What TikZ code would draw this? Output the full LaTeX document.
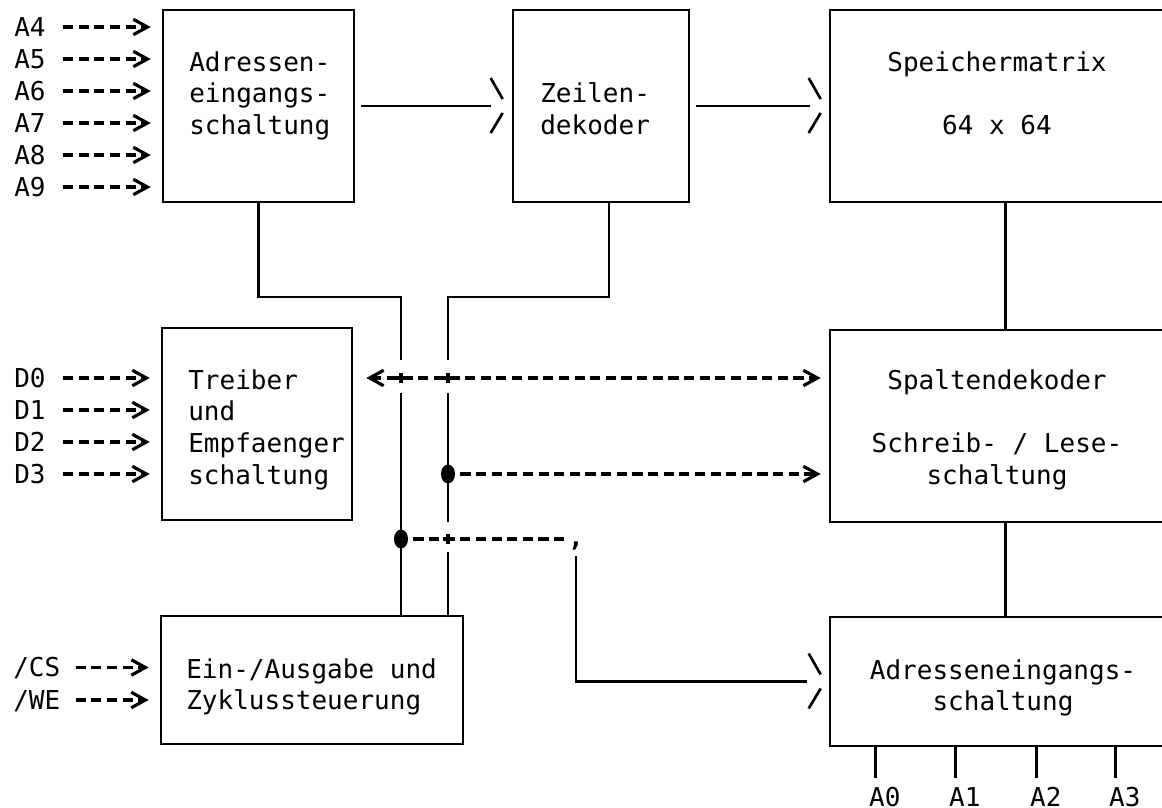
\documentclass[tikz,border=0pt]{standalone}
\usepackage{fontspec}
\newfontfamily\tw{DejaVu Sans Mono}
\usepackage{tikz}
\usetikzlibrary{arrows.meta,shapes.geometric}

\begin{document}
\begin{tikzpicture}[line width=0.75pt,>={Straight Barb[length=4pt,width=4.4pt]},
  blk/.style={draw,inner sep=0},
  txt/.style={inner sep=0,font=\tw\fontsize{7.4}{9.07}\selectfont},
  inp/.style={txt,text height=5.4pt,text depth=0pt,anchor=west},
  sig/.style={line width=0.9pt,dash pattern=on 2.9pt off 1.55pt,->},
  blob/.style={ellipse,fill,inner sep=0,minimum width=0.14cm,minimum height=0.19cm},
  chev/.pic={\draw (-0.12,0.28)--(0,0.07) (0,-0.07)--(-0.12,-0.27);}]
\useasboundingbox (0,0) rectangle (11.62,-8.08);
\clip (0,0) rectangle (11.62,-8.08);

\node[blk,minimum width=1.91cm,minimum height=1.92cm] (adr) at (2.585,-1.06) {};
\node[blk,minimum width=1.76cm,minimum height=1.92cm] (zeil) at (6.01,-1.06) {};
\node[blk,minimum width=3.45cm,minimum height=1.92cm] (spm) at (10.025,-1.06) {};
\node[blk,minimum width=1.90cm,minimum height=1.92cm] (treib) at (2.57,-4.24) {};
\node[blk,minimum width=3.45cm,minimum height=1.92cm] (spd) at (10.025,-4.26) {};
\node[blk,minimum width=3.02cm,minimum height=1.28cm] (steu) at (3.12,-6.80) {};
\node[blk,minimum width=3.45cm,minimum height=1.29cm] (adr2) at (10.025,-6.815) {};

\node[txt,anchor=north west,align=left] (adrT) at (1.88,-0.50) {Adressen-\\eingangs-\\schaltung};
\node[txt,anchor=north west,align=left] (zeilT) at (5.39,-0.81) {Zeilen-\\dekoder};
\node[txt,anchor=north,align=center] (spmT) at (9.97,-0.50) {Speichermatrix\\[9.07pt]64 x 64};
\node[txt,anchor=north west,align=left] (treibT) at (1.87,-3.68) {Treiber\\und\\Empfaenger\\schaltung};
\node[txt,anchor=north,align=center] (spdT) at (9.97,-3.68) {Spaltendekoder\\[9.07pt]Schreib- / Lese-\\schaltung};
\node[txt,anchor=north west,align=left] (steuT) at (1.85,-6.57) {Ein-/Ausgabe und\\Zyklussteuerung};
\node[txt,anchor=north,align=center] (adr2T) at (10.03,-6.58) {Adresseneingangs-\\schaltung};

\foreach \n [count=\i from 0] in {4,...,9}{
  \node[inp] (a\n) at (0.13,-0.27-0.32*\i) {A\n};
  \draw[sig,shorten <=0.16cm,shorten >=0.11cm] (a\n) -- (a\n -| adr.west);
}
\foreach \n [count=\i from 0] in {0,...,3}{
  \node[inp] (d\n) at (0.13,-3.78-0.32*\i) {D\n};
  \draw[sig,shorten <=0.16cm,shorten >=0.11cm] (d\n) -- (d\n -| treib.west);
}
\node[inp] (cs) at (0.12,-6.675) {/CS};
\node[inp] (we) at (0.12,-7.0) {/WE};
\foreach \s in {cs,we}
  \draw[sig,shorten <=0.14cm,shorten >=0.11cm] (\s) -- (\s -| steu.west);

\draw[shorten <=0.06cm,shorten >=0.21cm] (adr) -- (zeil);
\pic at ([xshift=-0.09cm]zeil.west) {chev};
\draw[shorten <=0.06cm,shorten >=0.19cm] (zeil) -- (spm);
\pic at ([xshift=-0.08cm]spm.west) {chev};
\draw ([xshift=1.77cm]spm.south west) -- ([xshift=1.77cm]spd.north west);
\draw ([xshift=1.77cm]spd.south west) -- ([xshift=1.77cm]adr2.north west);

\coordinate (x1) at (4.01,-3.78);
\coordinate (x2) at (4.48,-3.78);
\coordinate (x3) at (4.48,-5.39);
\draw (adr.south) |- (4.01,-2.97) -- ([yshift=0.18cm]x1);
\draw ([yshift=-0.15cm]x1) -- (x1 |- steu.north);
\draw ([xshift=0.08cm]zeil.south) |- (4.48,-2.97) -- ([yshift=0.18cm]x2);
\draw ([yshift=-0.15cm]x2) -- ([yshift=0.17cm]x3);
\draw ([yshift=-0.13cm]x3) -- (x3 |- steu.north);
\foreach \c in {x1,x2,x3}
  \draw[line width=0.9pt] (\c) +(-0.05,0) -- +(0.05,0) +(0,-0.05) -- +(0,0.05);

\node[blob] (j1) at (4.01,-5.39) {};
\node[blob] (j2) at (4.48,-4.74) {};
\draw[sig,<->,shorten <=0.13cm,shorten >=0.08cm] (treib.east |- d0) -- (spd.west |- d0);
\draw[sig,shorten <=0.04cm,shorten >=0.08cm] (j2) -- (j2 -| spd.west);
\coordinate (k1) at (5.65,-5.39);
\draw[sig,-,shorten <=0.04cm] (j1) -- (k1);
\node[txt] (cm) at (5.76,-5.46) {\bfseries ,};
\draw[shorten >=0.22cm] ([yshift=-0.05cm]cm.south) |- (adr2.west);
\pic at ([xshift=-0.08cm]adr2.west) {chev};

\foreach \n/\dx in {0/0.47,1/1.27,2/2.08,3/2.87}
  \draw ([xshift=\dx cm]adr2.south west) -- ++(0,-0.31)
    node[inp,anchor=north west,xshift=-0.078cm,yshift=-0.08cm] (a\n) {A\n};
\end{tikzpicture}
\end{document}
